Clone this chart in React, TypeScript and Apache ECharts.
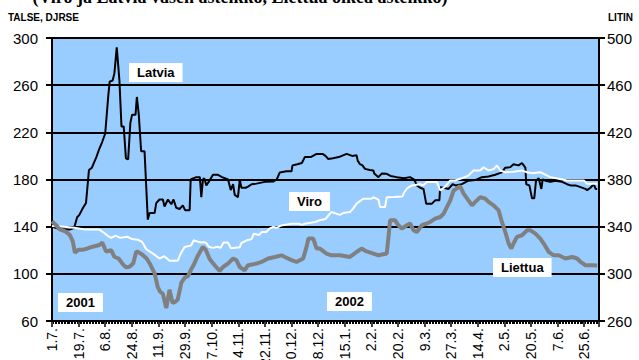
import React, { useEffect, useRef } from "react";
import * as echarts from "echarts";

// x = days counted from 1.7.2001 (one calendar day per unit)
const dateTicks = ["1.7.", "19.7.", "6.8.", "24.8.", "11.9.", "29.9.", "17.10.", "4.11.", "22.11.", "10.12.", "28.12.", "15.1.", "2.2.", "20.2.", "9.3.", "27.3.", "14.4.", "2.5.", "20.5.", "7.6.", "25.6."];
const leftTicks = [60, 100, 140, 180, 220, 260, 300];
const rightTicks = [260, 300, 340, 380, 420, 460, 500];

// Latvia (left scale)
const latvia: number[][] = [
  [0, 140], [5, 138], [12, 137.5], [15, 139], [17, 148], [18.5, 150], [21, 156], [23, 160], [25, 188], [27, 190], [28, 193], [30, 199], [32, 206], [34, 212], [36, 219], [38, 250], [39, 263], [41, 264], [42.2, 270], [43.8, 292], [45.6, 264], [47, 225], [48.5, 225], [50, 198], [51.5, 197], [53, 228], [54.2, 235], [56.5, 235], [57.4, 250], [58.7, 235], [60.3, 204], [62.6, 204], [64.8, 146], [66, 151.5], [69.4, 151.5], [70.5, 160], [72.7, 163], [75, 163], [76.1, 157], [78.4, 163], [80.7, 159], [82.2, 163], [84, 156], [86.3, 155], [88.5, 158], [90, 154], [93.1, 154], [93.8, 180], [97.6, 182], [100, 182], [101, 165], [102.1, 180], [103, 181], [104.4, 175], [106, 178], [108.9, 184], [112.3, 184], [115, 182], [119.1, 180], [120.9, 171], [122.5, 176], [123.6, 167], [125.8, 165], [127, 180], [128.1, 173], [131, 173], [132.6, 174], [135, 176], [138.3, 176.5], [144, 178], [149.6, 178.2], [152, 180], [154.1, 186], [158.6, 187], [162, 187], [162.7, 192], [166, 193], [169, 194], [171, 199], [175, 199], [179, 201.7], [183, 201.7], [185, 200], [186.9, 197.4], [190, 198], [194, 199], [199.3, 201.7], [203, 200], [206, 200.5], [206.8, 196], [208.3, 193], [210, 192], [211.7, 189], [215, 188], [217.4, 187.6], [218, 185], [220.8, 182], [223, 185], [226.4, 184.8], [229, 183], [233.2, 182], [238, 181], [242.2, 182], [245, 180], [246.8, 175], [249, 173], [251.3, 172], [253.1, 159.5], [257, 159.5], [259.2, 162.3], [262, 162.3], [262.6, 173.5], [265, 173], [268.2, 172], [271, 176], [273, 175], [277.2, 176], [281.7, 179], [286.3, 179.5], [290.8, 182], [295.3, 182.5], [299.8, 184], [304.3, 186], [306.6, 190], [310, 190.5], [312.2, 193], [315.6, 192], [317.9, 194], [320.2, 190], [320.8, 176], [322.9, 175], [324.7, 164], [326.2, 164], [327.4, 179], [329.2, 181], [331, 172], [331.9, 180], [333.7, 179], [337.1, 178], [340.5, 179], [345, 178], [348.4, 176], [350.7, 175], [354.1, 175], [357.5, 173.5], [360.8, 172], [362, 171], [364.2, 173], [366.5, 176], [367.7, 172], [368.8, 172],
];

// Viro (left scale)
const viro: number[][] = [
  [0, 140.5], [8, 140], [15, 139], [23, 137.5], [32, 137.5], [35, 135], [38, 132], [40, 130.5], [43, 132.5], [46, 130.5], [51, 131.5], [54, 129.5], [58, 129], [61, 127], [63.7, 121], [66, 119], [69, 116.5], [72.7, 113], [76, 115], [79.5, 111], [85, 111], [87, 117], [89.7, 122.8], [94, 124], [95.9, 128.5], [98, 127.5], [101, 126.5], [103, 127], [104.4, 126], [106, 123], [108.9, 122], [112, 123], [114, 122], [116, 126.5], [119, 126.5], [121, 121.7], [127, 122.5], [128, 126], [132, 128.5], [135, 129.5], [136.5, 134], [140, 133], [142, 135.5], [145, 135.5], [147, 138.3], [149.6, 139.7], [152, 139], [155, 141], [162, 142.5], [167, 142.5], [169, 141.5], [171, 142.5], [178, 144], [181, 145.4], [185, 146.5], [188, 151], [189, 152.4], [194.7, 150], [197, 151.5], [201.5, 152.5], [203.7, 155.3], [206, 159.5], [210.5, 163.7], [216, 163.7], [217.4, 165], [220.8, 163], [221.9, 156.6], [225.3, 156.6], [226.4, 165], [231, 165.1], [237, 165.5], [238, 168.5], [240, 172.2], [243.4, 175], [249, 176], [251, 175], [253.6, 177.8], [260.4, 177.8], [262.6, 170.7], [266, 174], [269.4, 179.2], [272.7, 179.2], [277.2, 181], [281.7, 183.4], [285.1, 187.6], [289.6, 187.6], [291.9, 190.4], [295.3, 187.6], [298.7, 188.8], [301, 191.9], [303.2, 187.6], [306.6, 186.2], [312.2, 186.6], [317.9, 187.6], [321.3, 186.2], [324.7, 185.4], [330.3, 186.2], [332.6, 184.8], [337.1, 182], [342.8, 180.6], [348.4, 179.2], [359.7, 179.2], [362, 176.4], [368.8, 176.4],
];

// Liettua (right scale)
const liettua: number[][] = [
  [0, 344.5], [3, 341], [5, 338], [9, 336], [12, 333], [14, 328], [15.5, 318], [18, 320.5], [21, 320.5], [24, 321.5], [27.5, 323], [32, 324.5], [34, 326.5], [36.6, 319], [40, 320], [42.2, 314.5], [45, 313], [48, 308], [50, 305.5], [52.4, 306], [55, 309], [57, 319], [59, 318], [61.4, 316], [64, 313], [66, 309], [68, 304], [69.4, 300.5], [71.5, 289], [73, 285], [75, 283], [77.3, 271], [79.5, 286.5], [81.5, 275.5], [83, 276], [85, 278], [87.5, 292.5], [90, 297], [92, 298], [94.2, 304], [96, 308], [98.5, 315], [102, 322.8], [104, 320.5], [106.6, 312.5], [110, 307.3], [113.4, 302.5], [115.7, 305.8], [119, 308.7], [122.5, 313], [124.7, 311.6], [127, 305.8], [130.3, 303], [132.6, 307.3], [138.3, 308.7], [141.7, 310.1], [146.2, 313], [150.7, 314.3], [155.3, 315.7], [157.5, 314.3], [162, 311.6], [165.4, 310.1], [169.9, 313], [172, 322], [173.5, 329.9], [176.7, 329.9], [179, 321.4], [181.2, 321.4], [185.7, 317.2], [189, 315.7], [194.7, 315.7], [201.5, 314.3], [206, 318.5], [209.4, 321.4], [212.8, 319], [217.4, 317.2], [220.8, 315.7], [226.4, 317.2], [227.5, 330], [228.7, 345.4], [232.1, 345.4], [234.3, 341.2], [236.6, 338.3], [240, 341.2], [242.2, 342.7], [244.5, 337], [246.8, 335.5], [250.2, 341.2], [253.6, 342.7], [255.8, 344], [259.2, 346.8], [262.6, 348.2], [264.9, 351], [267.1, 356.6], [269.4, 362.3], [271.7, 370.7], [273.9, 372.5], [276, 374.5], [278.4, 368], [281.7, 362.3], [284.1, 358], [286.3, 361], [289.7, 365], [293.1, 363.7], [295.3, 361], [298.7, 358], [302.1, 353.8], [304.3, 344], [306.6, 335.5], [308.9, 325.7], [310.7, 321.5], [312.2, 325.7], [314.5, 331.3], [317.9, 332.7], [321.3, 336.9], [323.6, 336.9], [327, 334.1], [330.3, 329.9], [332.6, 325.7], [336, 318.6], [339.4, 315.7], [342.8, 315.7], [347.3, 313], [351.9, 314.3], [355.2, 313], [357.5, 310.1], [360.9, 307.3], [365.4, 307.3], [368.8, 307],
];

const FONT = "'Liberation Sans', Arial, sans-serif";

export default function App() {
  const ref = useRef<HTMLDivElement>(null);
  useEffect(() => {
    if (!ref.current) return;
    const chart = echarts.init(ref.current, null, { renderer: "svg" });
    const labelBox = (text: string, x: number, y: number) => ({
      type: "text",
      x,
      y,
      z: 100,
      style: {
        text,
        fill: "#000",
        font: `bold 13px ${FONT}`,
        backgroundColor: "#fff",
        padding: [3, 8, 3, 8],
      },
    });
    chart.setOption({
      animation: false,
      backgroundColor: "#fff",
      grid: {
        left: 52,
        right: 40,
        top: 38,
        bottom: 39,
        show: true,
        backgroundColor: "#99ccff",
        borderWidth: 0,
        containLabel: false,
        outerBoundsMode: "none",
      },
      xAxis: {
        type: "value",
        min: 0,
        max: 370,
        interval: 18,
        axisLine: { show: true, onZero: false, lineStyle: { color: "#000", width: 2 } },
        axisTick: { show: true, length: 6, lineStyle: { color: "#000", width: 1.5 } },
        minorTick: { show: true, splitNumber: 18, length: 3, lineStyle: { color: "#000", width: 1 } },
        splitLine: { show: false },
        minorSplitLine: { show: false },
        axisLabel: {
          rotate: 90,
          margin: 7,
          fontSize: 14,
          fontFamily: FONT,
          color: "#000",
          showMaxLabel: false,
          formatter: (v: number) => {
            const i = Math.round(v / 18);
            return Math.abs(v - i * 18) < 1e-6 && i < dateTicks.length ? dateTicks[i] : "";
          },
        },
      },
      yAxis: [
        {
          type: "value",
          min: leftTicks[0],
          max: leftTicks[leftTicks.length - 1],
          interval: 40,
          axisLine: { show: true, onZero: false, lineStyle: { color: "#000", width: 2 } },
          axisTick: { show: true, length: 6, lineStyle: { color: "#000", width: 2 } },
          splitLine: { show: true, lineStyle: { color: "#000", width: 2 } },
          axisLabel: { margin: 14, fontSize: 15, fontFamily: FONT, color: "#000" },
        },
        {
          type: "value",
          position: "right",
          min: rightTicks[0],
          max: rightTicks[rightTicks.length - 1],
          interval: 40,
          axisLine: { show: true, onZero: false, lineStyle: { color: "#000", width: 2 } },
          axisTick: { show: true, length: 6, lineStyle: { color: "#000", width: 2 } },
          splitLine: { show: false },
          axisLabel: { margin: 8, fontSize: 15, fontFamily: FONT, color: "#000" },
        },
      ],
      series: [
        {
          name: "Latvia",
          type: "line",
          yAxisIndex: 0,
          data: latvia,
          symbol: "none",
          lineStyle: { color: "#000", width: 2 },
        },
        {
          name: "Viro",
          type: "line",
          yAxisIndex: 0,
          data: viro,
          symbol: "none",
          lineStyle: { color: "#fff", width: 2 },
        },
        {
          name: "Liettua",
          type: "line",
          yAxisIndex: 1,
          data: liettua,
          symbol: "none",
          lineStyle: { color: "#808080", width: 4 },
        },
      ],
      graphic: [
        {
          type: "text",
          x: 240,
          y: -3,
          style: {
            text: "(Viro ja Latvia vasen asteikko, Liettua oikea asteikko)",
            font: "bold 18px 'Liberation Serif', 'Times New Roman', serif",
            fill: "#000",
            align: "center",
            verticalAlign: "middle",
          },
        },
        {
          type: "text",
          x: 8,
          y: 17,
          style: { text: "TALSE, DJRSE", font: `bold 10px ${FONT}`, fill: "#000", verticalAlign: "middle" },
        },
        {
          type: "text",
          x: 633,
          y: 17,
          style: { text: "LITIN", font: `bold 10px ${FONT}`, fill: "#000", align: "right", verticalAlign: "middle" },
        },
        labelBox("Latvia", 129, 63),
        labelBox("Viro", 289, 192),
        labelBox("Liettua", 493, 258),
        labelBox("2001", 58, 293),
        labelBox("2002", 327, 292),
      ],
    });
    return () => chart.dispose();
  }, []);
  return (
    <div
      ref={ref}
      style={{ position: "fixed", left: 0, top: 0, width: 639, height: 360 }}
    />
  );
}
